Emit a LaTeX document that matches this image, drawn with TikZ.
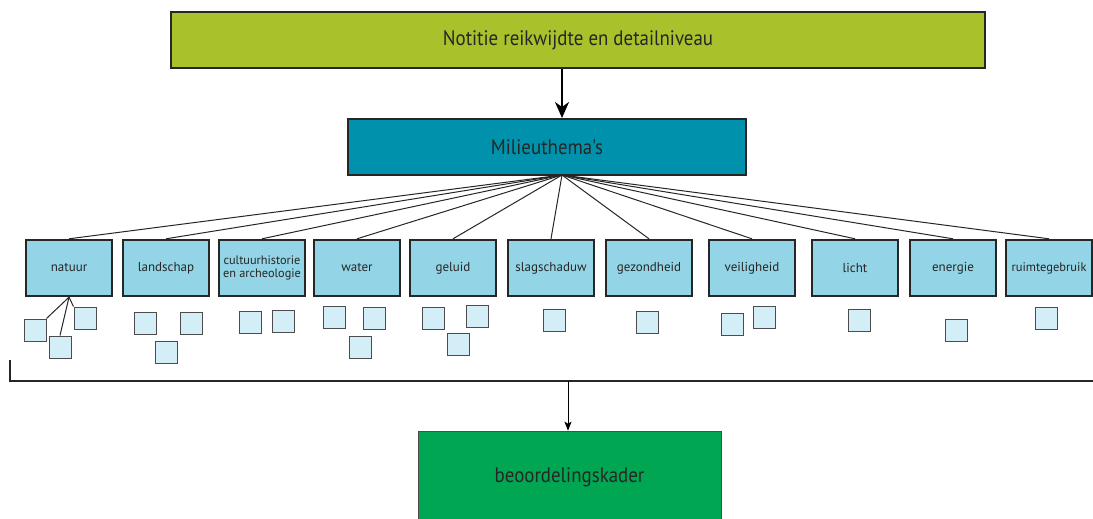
\documentclass[tikz,border=0pt]{standalone}
\usepackage{fontspec}
\setmainfont{PT Sans}
\newfontfamily\condf[FakeStretch=0.9]{PT Sans}
\usetikzlibrary{arrows.meta}
\definecolor{topgreen}{HTML}{A9C22B}
\definecolor{teal}{HTML}{0092AC}
\definecolor{lblue}{HTML}{93D5E6}
\definecolor{sqblue}{HTML}{D3EEF6}
\definecolor{bgreen}{HTML}{00A651}
\definecolor{txt}{HTML}{262626}
\tikzset{
  bigbox/.style={draw=black!85, line width=2pt, inner sep=0pt, text=txt, font=\condf\fontsize{21}{23}\selectfont},
  theme/.style={draw=black!85, line width=2.4pt, fill=lblue, minimum width=86pt, minimum height=56pt, inner sep=0pt, text=txt, font=\fontsize{13}{14.5}\selectfont, align=center},
  sq/.style={draw=black!70, line width=1pt, fill=sqblue, minimum width=22pt, minimum height=22pt, inner sep=0pt},
  fan/.style={draw=black!85, line width=1pt}
}
\begin{document}
\begin{tikzpicture}[x=1pt,y=-1pt]
\useasboundingbox (0,0) rectangle (1093,519);
\node[bigbox, fill=topgreen, minimum width=814pt, minimum height=56pt] (top) at (578,40) {Notitie reikwijdte en detailniveau};
\node[bigbox, fill=teal, minimum width=398pt, minimum height=56pt] (milieu) at (547,147) {Milieuthema's};
\coordinate (apex) at (562,175);
\draw[line width=2pt, -{Stealth[length=16pt,width=14pt,inset=5pt]}] (top.south -| apex) -- (milieu.north -| apex);

\node[theme] (natuur) at (69,268) {natuur};
\node[theme] (landschap) at (166,268) {landschap};
\node[theme, font=\fontsize{12.3}{13.5}\selectfont] (cultuur) at (262,268) {cultuurhistorie\\en archeologie};
\node[theme] (water) at (357,268) {water};
\node[theme] (geluid) at (453,268) {geluid};
\node[theme] (slag) at (551,268) {slagschaduw};
\node[theme] (gezond) at (649,268) {gezondheid};
\node[theme] (veilig) at (752,268) {veiligheid};
\node[theme] (licht) at (855,268) {licht};
\node[theme] (energie) at (953,268) {energie};
\node[theme, font=\fontsize{12.5}{14}\selectfont] (ruimte) at (1049,268) {ruimtegebruik};

\foreach \n in {natuur,landschap,cultuur,water,geluid,slag,gezond,veilig,licht,energie,ruimte}
  \draw[fan] (apex) -- (\n.north);

\node[sq] (n1) at (35,330) {};
\node[sq] (n2) at (60,347) {};
\node[sq] (n3) at (85,318) {};
\draw[fan] (natuur.south) -- (n1.north east);
\draw[fan] (natuur.south) -- (n2.north);
\draw[fan] (natuur.south) -- (n3.north west);
\node[sq] (l1) at (145,323) {};
\node[sq] (l2) at (191,323) {};
\node[sq] (l3) at (166,352) {};
\node[sq] (c1) at (250,322) {};
\node[sq] (c2) at (283,321) {};
\node[sq] (w1) at (334,317) {};
\node[sq] (w2) at (374,318) {};
\node[sq] (w3) at (360,347) {};
\node[sq] (g1) at (433,318) {};
\node[sq] (g2) at (477,316) {};
\node[sq] (g3) at (458,344) {};
\node[sq] (s1) at (554,320) {};
\node[sq] (z1) at (647,322) {};
\node[sq] (v1) at (732,324) {};
\node[sq] (v2) at (764,317) {};
\node[sq] (li1) at (859,320) {};
\node[sq] (e1) at (956,330) {};
\node[sq] (r1) at (1046,318) {};

\coordinate (bl) at (10,360);
\coordinate (bc) at (10,381);
\coordinate (br) at (1093,381);
\draw[line width=2pt, black!85] (bl) -- (bc) -- (br);

\node[draw=black!70, line width=0.6pt, fill=bgreen, minimum width=303pt, minimum height=92pt, inner sep=0pt, text=txt, font=\condf\fontsize{21}{23}\selectfont] (kader) at (569.5,477) {beoordelingskader};
\coordinate (bm) at (568,381);
\draw[line width=0.8pt, -{Stealth[length=9pt,width=7pt,inset=2pt]}] (bm) -- (kader.north -| bm);
\end{tikzpicture}
\end{document}
